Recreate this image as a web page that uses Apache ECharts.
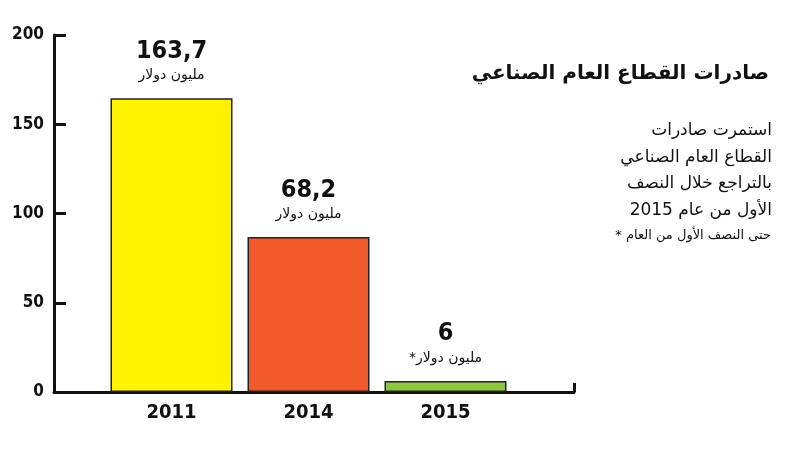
<!DOCTYPE html>
<html>
<head>
<meta charset="utf-8">
<script src="https://cdn.jsdelivr.net/npm/echarts@6/dist/echarts.min.js"></script>
<style>
  html, body { margin: 0; padding: 0; background: #fff; }
  #grf_1 { width: 800px; height: 449px; }
</style>
</head>
<body>
<div id="grf_1"></div>
<script>
// Dados do grafico
var anos = ['2011', '2014', '2015'];
var valores = [164.5, 86.8, 6.2];
var rotulosValor = ['163,7', '68,2', '6'];
var rotulosUnidade = ['مليون دولار', 'مليون دولار', '*مليون دولار'];
var cores = ['#FFF200', '#F15A2B', '#8DC63F'];
var ticksY = [0, 50, 100, 150, 200];

var titulo = 'صادرات القطاع العام الصناعي';
var linhasTexto = ['استمرت صادرات', 'القطاع العام الصناعي', 'بالتراجع خلال النصف', 'الأول من عام 2015'];
var nota = '* حتى النصف الأول من العام';

var fonteNum = '"DejaVu Sans Condensed", "Liberation Sans Narrow", sans-serif';
var fonteAr = '"DejaVu Sans", sans-serif';

var grafico1 = echarts.init(document.getElementById('grf_1'));

// monta as barras com cor e rotulo
var dadosBarras = [];
for (var i = 0; i < valores.length; i++) {
	dadosBarras.push({
		value: valores[i],
		itemStyle: { color: cores[i] },
		label: { formatter: '{v|' + rotulosValor[i] + '}\n{u|' + rotulosUnidade[i] + '}' }
	});
}

// textos da direita
var textos = [];
for (var j = 0; j < linhasTexto.length; j++) {
	textos.push({
		type: 'text',
		right: 28,
		top: 122 + j * 26.7,
		style: {
			text: linhasTexto[j],
			fill: '#111',
			font: '17px ' + fonteAr,
			textAlign: 'right'
		}
	});
}
textos.push({
	type: 'text',
	right: 29,
	top: 229,
	style: { text: nota, fill: '#111', font: '13px ' + fonteAr, textAlign: 'right' }
});

var opcoes_grafico1 = {
	backgroundColor: '#fff',
	animation: false,
	title: {
		text: titulo,
		right: 26,
		top: 59,
		textStyle: { fontFamily: fonteAr, fontWeight: 'bold', fontSize: 20, color: '#111' }
	},
	graphic: textos,
	grid: [
		{ left: 54, right: 226, top: 35, bottom: 57 },
		{ left: 103, right: 286, top: 35, bottom: 57 }
	],
	xAxis: [
		{
			gridIndex: 0,
			type: 'value',
			min: 0,
			max: 1,
			interval: 1,
			axisLine: { show: true, lineStyle: { color: '#111', width: 3 } },
			axisTick: { show: true, inside: true, length: 9, lineStyle: { color: '#111', width: 3 } },
			axisLabel: { show: false },
			splitLine: { show: false }
		},
		{
			gridIndex: 1,
			type: 'category',
			data: anos,
			axisLine: { show: false },
			axisTick: { show: false },
			axisLabel: {
				margin: 11,
				color: '#111',
				fontFamily: fonteNum,
				fontWeight: 'bold',
				fontSize: 20
			}
		}
	],
	yAxis: [
		{
			gridIndex: 0,
			type: 'value',
			min: 0,
			max: 200,
			interval: 50,
			axisLine: { show: true, lineStyle: { color: '#111', width: 3 } },
			axisTick: { show: true, inside: true, length: 12, lineStyle: { color: '#111', width: 3 } },
			axisLabel: {
				margin: 10,
				color: '#111',
				fontFamily: fonteNum,
				fontWeight: 'bold',
				fontSize: 17,
				formatter: function (v) { return ticksY.indexOf(v) >= 0 ? String(v) : ''; }
			},
			splitLine: { show: false }
		},
		{
			gridIndex: 1,
			type: 'value',
			min: 0,
			max: 200,
			show: false
		}
	],
	series: [{
		type: 'bar',
		xAxisIndex: 1,
		yAxisIndex: 1,
		barWidth: 122,
		data: dadosBarras,
		itemStyle: { borderColor: '#222', borderWidth: 1.5 },
		label: {
			show: true,
			position: 'top',
			distance: 12,
			align: 'center',
			rich: {
				v: { fontFamily: fonteNum, fontWeight: 'bold', fontSize: 25, color: '#111', lineHeight: 26, align: 'center' },
				u: { fontFamily: fonteAr, fontSize: 14, color: '#111', lineHeight: 22, align: 'center' }
			}
		}
	}]
};

grafico1.setOption(opcoes_grafico1);
</script>
</body>
</html>
